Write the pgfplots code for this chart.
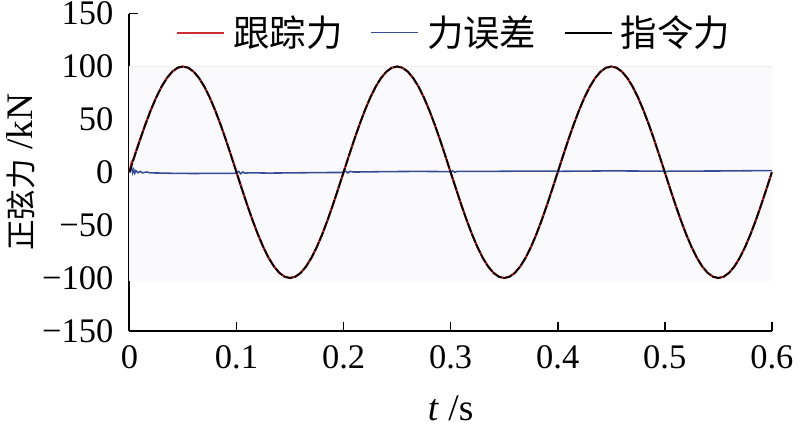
\documentclass[border=0pt]{standalone}
\usepackage{pgfplots}
\pgfplotsset{compat=1.18}
\usepackage{pgfplotstable}
\usepackage{fontspec}
\setmainfont{Liberation Serif}
\newfontfamily\cjk{Noto Sans CJK SC}
\definecolor{trk}{RGB}{205,45,50}
\definecolor{err}{RGB}{55,75,150}
\definecolor{bgf}{RGB}{250,250,252}
\pgfplotstableread{
t cmd
0.000 0
0.005 15.64
0.010 30.90
0.015 45.40
0.020 58.78
0.025 70.71
0.030 80.90
0.035 89.10
0.040 95.11
0.045 98.77
0.050 100
0.055 98.77
0.060 95.11
0.065 89.10
0.070 80.90
0.075 70.71
0.080 58.78
0.085 45.40
0.090 30.90
0.095 15.64
0.100 0
0.105 -15.64
0.110 -30.90
0.115 -45.40
0.120 -58.78
0.125 -70.71
0.130 -80.90
0.135 -89.10
0.140 -95.11
0.145 -98.77
0.150 -100
0.155 -98.77
0.160 -95.11
0.165 -89.10
0.170 -80.90
0.175 -70.71
0.180 -58.78
0.185 -45.40
0.190 -30.90
0.195 -15.64
0.200 0
0.205 15.64
0.210 30.90
0.215 45.40
0.220 58.78
0.225 70.71
0.230 80.90
0.235 89.10
0.240 95.11
0.245 98.77
0.250 100
0.255 98.77
0.260 95.11
0.265 89.10
0.270 80.90
0.275 70.71
0.280 58.78
0.285 45.40
0.290 30.90
0.295 15.64
0.300 0
0.305 -15.64
0.310 -30.90
0.315 -45.40
0.320 -58.78
0.325 -70.71
0.330 -80.90
0.335 -89.10
0.340 -95.11
0.345 -98.77
0.350 -100
0.355 -98.77
0.360 -95.11
0.365 -89.10
0.370 -80.90
0.375 -70.71
0.380 -58.78
0.385 -45.40
0.390 -30.90
0.395 -15.64
0.400 0
0.405 15.64
0.410 30.90
0.415 45.40
0.420 58.78
0.425 70.71
0.430 80.90
0.435 89.10
0.440 95.11
0.445 98.77
0.450 100
0.455 98.77
0.460 95.11
0.465 89.10
0.470 80.90
0.475 70.71
0.480 58.78
0.485 45.40
0.490 30.90
0.495 15.64
0.500 0
0.505 -15.64
0.510 -30.90
0.515 -45.40
0.520 -58.78
0.525 -70.71
0.530 -80.90
0.535 -89.10
0.540 -95.11
0.545 -98.77
0.550 -100
0.555 -98.77
0.560 -95.11
0.565 -89.10
0.570 -80.90
0.575 -70.71
0.580 -58.78
0.585 -45.40
0.590 -30.90
0.595 -15.64
0.600 0
}\cmdtab
\pgfplotstableread{
t trk
0.000 0
0.002 9
0.004 13
0.005 16.5
0.010 31.2
0.015 45.6
0.020 58.9
0.025 70.8
0.030 80.9
0.035 89.1
0.040 95.1
0.045 98.8
0.050 100
0.055 98.77
0.060 95.11
0.065 89.10
0.070 80.90
0.075 70.71
0.080 58.78
0.085 45.40
0.090 30.90
0.095 15.64
0.100 0
0.105 -15.64
0.110 -30.90
0.115 -45.40
0.120 -58.78
0.125 -70.71
0.130 -80.90
0.135 -89.10
0.140 -95.11
0.145 -98.77
0.150 -100
0.155 -98.77
0.160 -95.11
0.165 -89.10
0.170 -80.90
0.175 -70.71
0.180 -58.78
0.185 -45.40
0.190 -30.90
0.195 -15.64
0.200 0
0.205 15.64
0.210 30.90
0.215 45.40
0.220 58.78
0.225 70.71
0.230 80.90
0.235 89.10
0.240 95.11
0.245 98.77
0.250 100
0.255 98.77
0.260 95.11
0.265 89.10
0.270 80.90
0.275 70.71
0.280 58.78
0.285 45.40
0.290 30.90
0.295 15.64
0.300 0
0.305 -15.64
0.310 -30.90
0.315 -45.40
0.320 -58.78
0.325 -70.71
0.330 -80.90
0.335 -89.10
0.340 -95.11
0.345 -98.77
0.350 -100
0.355 -98.77
0.360 -95.11
0.365 -89.10
0.370 -80.90
0.375 -70.71
0.380 -58.78
0.385 -45.40
0.390 -30.90
0.395 -15.64
0.400 0
0.405 15.64
0.410 30.90
0.415 45.40
0.420 58.78
0.425 70.71
0.430 80.90
0.435 89.10
0.440 95.11
0.445 98.77
0.450 100
0.455 98.77
0.460 95.11
0.465 89.10
0.470 80.90
0.475 70.71
0.480 58.78
0.485 45.40
0.490 30.90
0.495 15.64
0.500 0
0.505 -15.64
0.510 -30.90
0.515 -45.40
0.520 -58.78
0.525 -70.71
0.530 -80.90
0.535 -89.10
0.540 -95.11
0.545 -98.77
0.550 -100
0.555 -98.77
0.560 -95.11
0.565 -89.10
0.570 -80.90
0.575 -70.71
0.580 -58.78
0.585 -45.40
0.590 -30.90
0.595 -15.64
0.600 0
}\trktab
\pgfplotstableread{
t err
0.000 0
0.001 2
0.002 4.5
0.003 -0.5
0.004 2.5
0.005 -1
0.006 1.5
0.008 -0.5
0.010 0.8
0.012 -0.6
0.016 0.2
0.020 -0.6
0.040 -1.0
0.060 -1.2
0.080 -1.0
0.098 -1.0
0.100 -0.5
0.102 0.8
0.104 -1.4
0.106 0.3
0.108 -0.9
0.112 -0.5
0.130 -0.8
0.150 -0.6
0.180 -0.3
0.198 -0.2
0.200 0.3
0.202 1.0
0.204 -0.6
0.206 0.8
0.210 0.2
0.240 0.6
0.270 0.8
0.298 0.6
0.300 0.4
0.302 1.2
0.304 0
0.306 0.8
0.330 0.8
0.360 1.0
0.398 1.0
0.400 0.6
0.404 0.9
0.450 1.3
0.498 1.0
0.500 0.5
0.504 1.0
0.550 1.2
0.600 1.6
}\errtab
\begin{document}
\begin{tikzpicture}
\begin{axis}[
  scale only axis,
  width=326pt, height=161pt,
  xmin=0, xmax=0.6, ymin=-150, ymax=150,
  axis x line*=bottom, axis y line*=left,
  axis line style={line width=1pt, -},
  xtick={0,0.1,...,0.6},
  xticklabels={0,0.1,0.2,0.3,0.4,0.5,0.6},
  ytick={-150,-100,-50,0,50,100,150},
  yticklabels={−150,−100,−50,0,50,100,150},
  tick align=inside,
  major tick length=4.5pt,
  tick style={line width=0.8pt, black},
  ticklabel style={font=\fontsize{17.5}{20}\selectfont},
  xticklabel style={yshift=-4pt},
  yticklabel style={inner sep=1pt, xshift=-7pt},
  xlabel={\textit{t} /s},
  ylabel={{\fontsize{15.5}{18}\selectfont\cjk 正弦力} /kN},
  label style={font=\fontsize{19}{22}\selectfont},
  xlabel style={yshift=-6.5pt},
  ylabel style={yshift=-1pt},
  legend columns=3,
  legend style={at={(0.507,0.94)}, anchor=center, draw=none, fill=none,
    inner sep=0pt,
    font=\fontsize{18.5}{20}\selectfont\cjk, column sep=2pt,
    /tikz/every even column/.append style={column sep=12pt}},
  legend image code/.code={\draw[#1] (0pt,0pt) -- (24pt,0pt);},
  clip=false,
]
\fill[bgf] (axis cs:0,-103) rectangle (axis cs:0.6,100);
\draw[gray!12, line width=0.5pt] (axis cs:0,100) -- (axis cs:0.6,100);
\addplot[trk, line width=1.1pt] table[x=t, y=trk] {\trktab};
\addlegendentry{跟踪力}
\addplot[err, line width=0.8pt] table[x=t, y=err] {\errtab};
\addlegendentry{力误差}
\addplot[black, line width=0.9pt, dash pattern=on 5pt off 0.7pt, forget plot] table[x=t, y=cmd] {\cmdtab};
\addlegendimage{black, line width=0.9pt}
\addlegendentry{指令力}
\end{axis}
\end{tikzpicture}
\end{document}
